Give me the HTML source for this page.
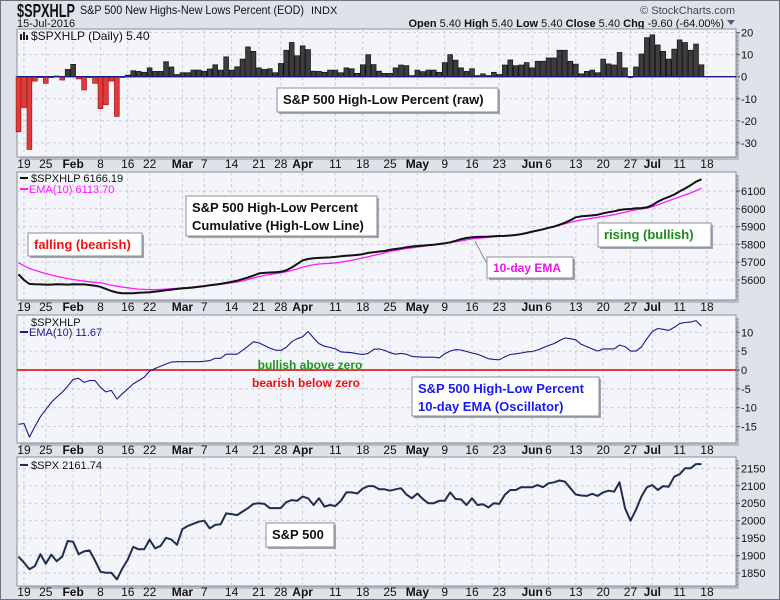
<!DOCTYPE html>
<html><head><meta charset="utf-8">
<style>
html,body{margin:0;padding:0;background:#dfe2e9;}
#wrap{position:relative;width:780px;height:600px;overflow:hidden;background:#dfe2e9;font-family:"Liberation Sans",sans-serif;}
svg text{font-family:"Liberation Sans",sans-serif;}
</style></head>
<body>
<div id="wrap">
<svg id="svg" width="780" height="600" xmlns="http://www.w3.org/2000/svg"></svg>
</div>
<script>
// ---- data ----
const tickLabels = ["19","25","Feb","8","16","22","Mar","7","14","21","28","Apr","11","18","25","May","9","16","23","Jun","6","13","20","27","Jul","11","18"];
const tickIdx = [1,5,10,15,20,24,30,34,39,44,48,52,58,63,68,73,78,83,88,94,97,102,107,112,116,121,126];
const tickBold = [0,0,1,0,0,0,1,0,0,0,0,1,0,0,0,1,0,0,0,1,0,0,0,0,1,0,0];
const hlpRaw = [-25,-14,-33,-2,0,-3,0,0.3,-1.5,3.3,5.6,-1,-6,0,-3,-14.5,-12.7,-2,-18,-0.3,
0.7,2.7,2.4,2,4,2.4,2.4,6.8,4.4,1,1.8,1.8,3,3,2.5,3.5,5.4,3,9,3,
4.5,8,13.5,11.5,4,3.3,3.6,1.8,6,12,15.5,9.5,14,12.3,2.5,2.4,2,3,3,1.8,
4,3.6,1.5,5.4,10,5.5,2.5,1.5,1.5,4,5.3,5,0.5,3,2.3,3,3,2,6.4,10,
7.5,4,2.4,3.6,0.5,1.3,0.5,2,1,5.3,7.6,5,5.3,6.4,4,7,7,8.5,8.5,12,
12,7,5.7,1.3,2.4,3,1.8,8,5.8,5.3,11,4,0,4.4,10.3,17.7,19,14.4,11.5,8,
12.5,16.7,15.5,12,14.8,5.4];
const hlCum = [5632,5600,5578,5576,5575,5574,5574,5576,5575,5574,
5576,5575,5575,5572,5568,5562,5550,5538,5530,5526,
5526,5526,5528,5530,5531,5535,5538,5542,5546,5550,
5553,5555,5558,5562,5566,5570,5574,5578,5584,5590,
5596,5605,5614,5625,5637,5640,5642,5643,5646,5654,
5670,5690,5710,5718,5722,5724,5726,5727,5730,5733,
5736,5738,5741,5745,5752,5756,5760,5763,5770,5774,
5778,5784,5788,5791,5793,5796,5798,5802,5806,5812,
5820,5830,5836,5840,5842,5843,5844,5846,5847,5848,
5850,5853,5858,5864,5872,5878,5885,5893,5900,5910,
5922,5936,5952,5958,5960,5963,5967,5975,5981,5986,
5993,5998,5999,6003,6004,6008,6020,6040,6055,6067,
6080,6098,6114,6132,6152,6166];
const hlEma = [5697,5680,5665,5655,5645,5636,5628,5620,5614,5608,
5603,5598,5594,5590,5587,5584,5578,5571,5565,5560,
5556,5552,5549,5547,5546,5546,5547,5549,5551,5553,
5556,5558,5561,5564,5567,5570,5573,5576,5580,5584,
5589,5595,5603,5611,5619,5626,5631,5636,5640,5646,
5654,5662,5672,5680,5686,5690,5692,5694,5696,5700,
5705,5711,5717,5724,5731,5738,5745,5752,5762,5766,
5772,5777,5781,5785,5789,5793,5797,5800,5804,5810,
5815,5820,5826,5831,5834,5837,5840,5843,5845,5847,
5849,5852,5856,5862,5871,5878,5886,5894,5900,5908,
5916,5924,5931,5937,5942,5947,5952,5957,5962,5967,
5974,5981,5988,5994,5999,6004,6012,6022,6034,6045,
6056,6067,6078,6089,6102,6115];
const oscEma = [-14.4,-14.2,-17.8,-15.0,-12.4,-10.5,-8.6,-7.2,-5.9,-4.3,
-2.5,-2.2,-3.3,-2.8,-2.8,-4.6,-5.8,-5.4,-7.7,-6.3,
-5.0,-3.7,-2.8,-1.9,-0.3,0.4,1.0,1.6,2.1,2.2,
2.2,2.2,2.2,2.2,2.3,2.5,3.1,3.1,4.2,4.2,
4.2,5.2,6.3,7.5,7.2,6.5,5.8,5.3,5.2,6.0,
7.5,8.3,8.8,10.2,8.5,7.0,6.3,6.0,5.6,4.8,
4.7,4.6,4.3,4.1,4.4,5.5,5.6,5.2,4.6,4.2,
4.4,4.2,3.6,3.5,3.4,3.4,3.4,3.2,4.3,5.0,
5.4,5.3,4.9,4.5,4.2,3.6,3.0,2.8,2.7,3.5,
4.1,4.3,4.5,4.8,4.9,5.3,5.9,6.5,7.0,7.8,
8.5,8.3,8.0,6.8,6.2,5.6,5.0,5.6,5.6,5.6,
6.6,6.2,5.0,5.0,6.1,8.3,10.2,11.0,10.8,10.5,
11.3,12.3,12.6,12.7,13.1,11.6];
const spx = [1897,1880,1861,1870,1904,1877,1903,1884,1897,1942,
1940,1904,1912,1915,1886,1854,1851,1851,1832,1863,
1889,1925,1918,1918,1946,1921,1928,1951,1946,1931,
1976,1985,1991,1997,2000,1978,1988,1990,2021,2019,
2016,2026,2036,2048,2050,2048,2036,2036,2036,2053,
2059,2057,2069,2064,2045,2064,2040,2045,2042,2057,
2081,2081,2078,2092,2099,2099,2090,2090,2086,2090,
2093,2075,2064,2078,2062,2050,2050,2057,2057,2081,
2062,2061,2045,2064,2045,2047,2038,2050,2048,2074,
2088,2088,2096,2096,2096,2102,2096,2107,2110,2115,
2112,2093,2075,2072,2071,2077,2071,2081,2086,2083,
2110,2036,2000,2031,2069,2096,2102,2088,2099,2097,
2126,2133,2150,2150,2162,2162];
const p1Ticks = [20,10,0,-10,-20,-30];
const p2Ticks = [6100,6000,5900,5800,5700,5600];
const p3Ticks = [10,5,0,-5,-10,-15];
const p4Ticks = [2150,2100,2050,2000,1950,1900,1850];

// ---- layout ----
const NS="http://www.w3.org/2000/svg";
const svg=document.getElementById('svg');
const L=17,R=736;
const xOf=i=>18.5+i*5.464;
function lin(v0,y0,v1,y1){return v=>y0+(v-v0)*(y1-y0)/(v1-v0);}
const y1=lin(0,76.7,20,32.6);
const y2=lin(5600,280,6100,191);
const y3=lin(0,370,10,332.3);
const y4=lin(2000,520.7,2150,468.3);
function mk(tag,attrs,parent){const e=document.createElementNS(NS,tag);for(const k in attrs)e.setAttribute(k,attrs[k]);(parent||svg).appendChild(e);return e;}
function txt(s,attrs,parent){const e=mk('text',attrs,parent);e.textContent=s;return e;}

let el=mk('rect',{x:0.5,y:0.5,width:779,height:599,fill:'#dfe2e9',stroke:'#6d7380'});



// header
el=txt('$SPXHLP',{x:17,y:17,'font-size':18,'font-weight':'bold',fill:'#111',textLength:58,lengthAdjust:'spacingAndGlyphs'});


el=txt('S&P 500 New Highs-New Lows Percent (EOD)',{x:80,y:14,'font-size':12,fill:'#111',textLength:224,lengthAdjust:'spacingAndGlyphs'});


el=txt('INDX',{x:311,y:14,'font-size':11,fill:'#111'});


el=txt('15-Jul-2016',{x:17,y:27,'font-size':11,fill:'#111'});


el=txt('© StockCharts.com',{x:735,y:14,'font-size':11,fill:'#444','text-anchor':'end'});


el=mk('text',{x:724,y:27,'font-size':11,fill:'#111','text-anchor':'end'});
el.innerHTML='<tspan font-weight="bold">Open</tspan> 5.40  <tspan font-weight="bold">High</tspan> 5.40  <tspan font-weight="bold">Low</tspan> 5.40  <tspan font-weight="bold">Close</tspan> 5.40  <tspan font-weight="bold">Chg</tspan> -9.60 (-64.00%)';


el=mk('path',{d:'M727,20 L735,20 L731,25 Z',fill:'#4a5a8a'});



function panel(name,top,bot,ticks,yf,fmt){
  const g=mk('g',{});
  
  
  mk('rect',{x:L+3,y:top+3,width:R-L,height:bot-top,fill:'#b8bcc6'},g);
  let r=mk('rect',{x:L,y:top,width:R-L,height:bot-top,fill:'#f4f5fa',stroke:'#8a8e98'},g);
  
  
  tickIdx.forEach(i=>{const x=xOf(i);if(x<R)mk('line',{x1:x,x2:x,y1:top,y2:bot,stroke:'#c9ccd4','stroke-dasharray':'3,3'},g);});
  ticks.forEach(v=>{const y=yf(v);
    mk('line',{x1:L,x2:R,y1:y,y2:y,stroke:'#c9ccd4','stroke-dasharray':'3,3'},g);
    mk('line',{x1:R,x2:R+4,y1:y,y2:y,stroke:'#555'},g);
    let t=txt(fmt?fmt(v):String(v),{x:R+5,y:y+4,'font-size':11,fill:'#111'},g);
    
    
  });
  for(let y=top+4;y<bot;y+=4)mk('line',{x1:R,x2:R+2,y1:y,y2:y,stroke:'#888'},g);
  return g;
}
function dateRow(yc,name){
  const g=mk('g',{});
  
  
  tickLabels.forEach((s,k)=>{
    const t=txt(s,{x:xOf(tickIdx[k]),y:yc+4,'font-size':12,'text-anchor':'middle',fill:'#111','font-weight':tickBold[k]?'bold':'normal'},g);
    
    
  });
}
function polyline(arr,yf,color,w,name){
  const pts=arr.map((v,i)=>xOf(i).toFixed(1)+','+yf(v).toFixed(1)).join(' ');
  const p=mk('polyline',{points:pts,fill:'none',stroke:color,'stroke-width':w,'stroke-linejoin':'round'});
  
  
  return p;
}
function box(x,y,w,h,lines,color,fs,name){
  const g=mk('g',{});
  
  
  mk('rect',{x:x+2,y:y+2,width:w,height:h,fill:'#a0a4ac'},g);
  mk('rect',{x:x,y:y,width:w,height:h,fill:'#fff',stroke:'#8a8e98'},g);
  lines.forEach((s,k)=>txt(s,{x:x+6,y:y+fs+3+k*(fs+5),'font-size':fs,'font-weight':'bold',fill:color},g));
}

// Panel 1
panel('raw-panel',29,157,p1Ticks,y1);
hlpRaw.forEach((v,i)=>{
  const x=xOf(i),y0=y1(0),yv=y1(v);
  const b=mk('rect',{x:x-2.4,y:Math.min(y0,yv),width:4.8,height:Math.max(0.8,Math.abs(yv-y0)),fill:v<0?'#e03a3a':'#3d3d3d',stroke:v<0?'#a01818':'#111','stroke-width':0.7});
  
  
});
el=mk('line',{x1:L,x2:R,y1:y1(0),y2:y1(0),stroke:'#1a1a7a','stroke-width':1.3});


el=mk('path',{d:'M20,40 h2 v-6 h-2z M23,40 h2 v-8 h-2z M26,40 h2 v-5 h-2z',fill:'#222'});


el=txt('$SPXHLP (Daily) 5.40',{x:31,y:40,'font-size':12,fill:'#111'});


box(277,88,221,24,['S&P 500 High-Low Percent (raw)'],'#111',13,'raw-annotation');
dateRow(164,'date-axis-1');

// Panel 2
panel('cumulative-panel',172,300,p2Ticks,y2);
polyline(hlEma,y2,'#ff1aff',1.3,'ema-line');
polyline(hlCum,y2,'#111',2,'high-low-line');
el=mk('line',{x1:20,x2:28,y1:178,y2:178,stroke:'#111','stroke-width':2});
el=txt('$SPXHLP 6166.19',{x:31,y:182,'font-size':11,fill:'#111'});


el=mk('line',{x1:20,x2:28,y1:189,y2:189,stroke:'#ff1aff','stroke-width':2});
el=txt('EMA(10) 6113.70',{x:29,y:193,'font-size':11,fill:'#ff1aff'});


box(186,196,191,40,['S&P 500 High-Low Percent','Cumulative (High-Low Line)'],'#111',13,'cumulative-annotation');
box(28,233,114,23,['falling (bearish)'],'#ee1111',13,'falling-annotation');
box(598,223,113,24,['rising (bullish)'],'#1a8a1a',13,'rising-annotation');
el=mk('polyline',{points:'475,241 486,262 488,262',fill:'none',stroke:'#888','stroke-width':1});


box(487,257,86,21,['10-day EMA'],'#ee11ee',12,'ema-annotation');
dateRow(307,'date-axis-2');

// Panel 3
panel('oscillator-panel',315,443,p3Ticks,y3);
el=mk('line',{x1:L,x2:R,y1:y3(0),y2:y3(0),stroke:'#e00000','stroke-width':1.5});


polyline(oscEma,y3,'#1a1a8c',1.1,'oscillator-line');
el=txt('$SPXHLP',{x:31,y:326,'font-size':11,fill:'#111'});


el=mk('line',{x1:20,x2:28,y1:332,y2:332,stroke:'#1a1a8c','stroke-width':2});
el=txt('EMA(10) 11.67',{x:29,y:336,'font-size':11,fill:'#1a1a8c'});


el=txt('bullish above zero',{x:310,y:369,'font-size':12,'font-weight':'bold',fill:'#1a9a1a','text-anchor':'middle'});


el=txt('bearish below zero',{x:306,y:387,'font-size':12,'font-weight':'bold',fill:'#ee1111','text-anchor':'middle'});


box(412,377,187,39,['S&P 500 High-Low Percent','10-day EMA (Oscillator)'],'#1a1aee',13,'oscillator-annotation');
dateRow(450,'date-axis-3');

// Panel 4
panel('spx-panel',457,586,p4Ticks,y4);
polyline(spx,y4,'#1e2d52',2,'spx-line');
el=mk('line',{x1:20,x2:28,y1:465,y2:465,stroke:'#1e2d52','stroke-width':2});
el=txt('$SPX 2161.74',{x:31,y:469,'font-size':11,fill:'#111'});


box(266,523,68,24,['S&P 500'],'#111',13,'spx-annotation');
dateRow(592,'date-axis-4');
</script>
</body></html>
